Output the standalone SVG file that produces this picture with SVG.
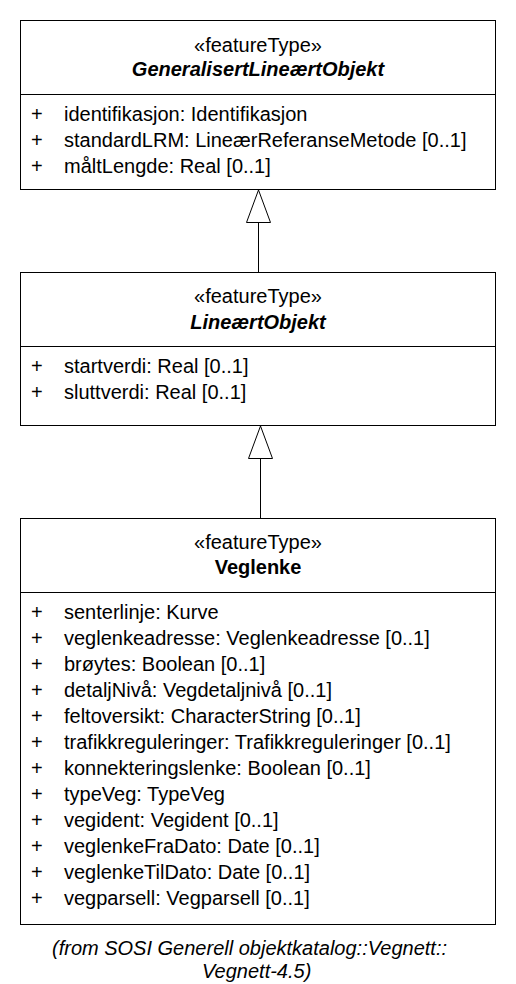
<svg xmlns="http://www.w3.org/2000/svg" width="516" height="984" viewBox="0 0 516 984">
<style>
.box{fill:#fff;stroke:#000;stroke-width:1}
.div{stroke:#000;stroke-width:1}
text{font-family:"Liberation Sans",Arial,sans-serif;font-size:20px;fill:#000}
.st{text-anchor:middle}
.ti{text-anchor:middle;font-weight:bold;font-style:italic}
.tb{text-anchor:middle;font-weight:bold}
.ft{font-style:italic}
.con{stroke:#000;stroke-width:1;fill:none}
.head{fill:#fff;stroke:#000;stroke-width:1}
</style>
<rect width="516" height="984" fill="#fff"/>
<g id="GeneralisertLineaertObjekt">
<rect class="box" x="20.5" y="20.5" width="475" height="169"/>
<line class="div" x1="20.5" y1="94.5" x2="495.5" y2="94.5"/>
<text class="st" x="258" y="52">«featureType»</text>
<text class="ti" x="258" y="76">GeneralisertLineærtObjekt</text>
<text x="31" y="120.5">+</text><text x="64" y="120.5">identifikasjon: Identifikasjon</text>
<text x="31" y="146.5">+</text><text x="64" y="146.5">standardLRM: LineærReferanseMetode [0..1]</text>
<text x="31" y="172.5">+</text><text x="64" y="172.5">måltLengde: Real [0..1]</text>
</g>
<g id="LineaertObjekt">
<rect class="box" x="20.5" y="272.5" width="475" height="153"/>
<line class="div" x1="20.5" y1="346.5" x2="495.5" y2="346.5"/>
<text class="st" x="258" y="302.5">«featureType»</text>
<text class="ti" x="258" y="328.5">LineærtObjekt</text>
<text x="31" y="372.5">+</text><text x="64" y="372.5">startverdi: Real [0..1]</text>
<text x="31" y="398.5">+</text><text x="64" y="398.5">sluttverdi: Real [0..1]</text>
</g>
<g id="Veglenke">
<rect class="box" x="20.5" y="518.5" width="475" height="406"/>
<line class="div" x1="20.5" y1="592.5" x2="495.5" y2="592.5"/>
<text class="st" x="258" y="548.5">«featureType»</text>
<text class="tb" x="258" y="574">Veglenke</text>
<text x="31" y="619">+</text><text x="64" y="619">senterlinje: Kurve</text>
<text x="31" y="645">+</text><text x="64" y="645">veglenkeadresse: Veglenkeadresse [0..1]</text>
<text x="31" y="671">+</text><text x="64" y="671">brøytes: Boolean [0..1]</text>
<text x="31" y="697">+</text><text x="64" y="697">detaljNivå: Vegdetaljnivå [0..1]</text>
<text x="31" y="722.7">+</text><text x="64" y="722.7">feltoversikt: CharacterString [0..1]</text>
<text x="31" y="748.7">+</text><text x="64" y="748.7">trafikkreguleringer: Trafikkreguleringer [0..1]</text>
<text x="31" y="774.7">+</text><text x="64" y="774.7">konnekteringslenke: Boolean [0..1]</text>
<text x="31" y="800.7">+</text><text x="64" y="800.7">typeVeg: TypeVeg</text>
<text x="31" y="826.7">+</text><text x="64" y="826.7">vegident: Vegident [0..1]</text>
<text x="31" y="852.7">+</text><text x="64" y="852.7">veglenkeFraDato: Date [0..1]</text>
<text x="31" y="878.7">+</text><text x="64" y="878.7">veglenkeTilDato: Date [0..1]</text>
<text x="31" y="904.7">+</text><text x="64" y="904.7">vegparsell: Vegparsell [0..1]</text>
</g>
<g id="connectors">
<line class="con" x1="258.5" y1="222.5" x2="258.5" y2="272.5"/>
<polygon class="head" points="258.5,190 246.5,222.5 270.5,222.5"/>
<line class="con" x1="260.5" y1="458.5" x2="260.5" y2="518.5"/>
<polygon class="head" points="260.5,426 248.5,458.5 272.5,458.5"/>
</g>
<g id="footer">
<text class="ft" x="52" y="955">(from SOSI Generell objektkatalog::Vegnett::</text>
<text class="ft" x="202" y="978">Vegnett-4.5)</text>
</g>
</svg>
